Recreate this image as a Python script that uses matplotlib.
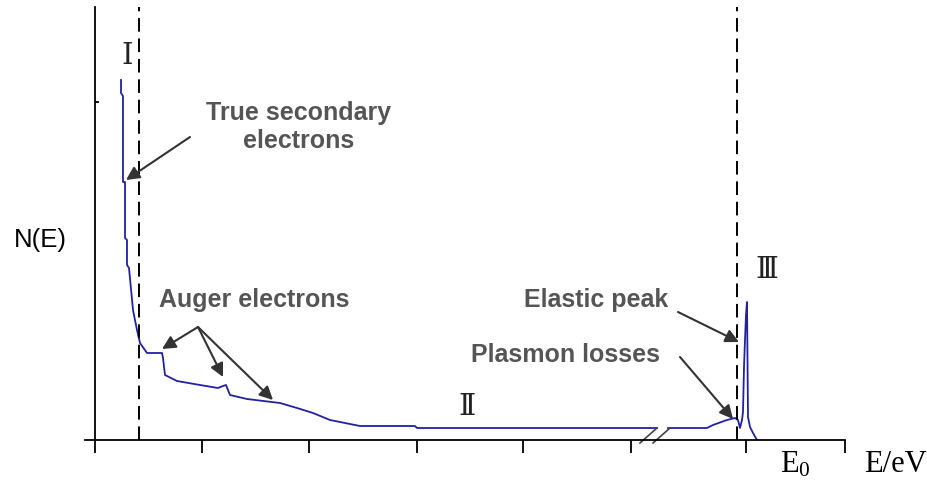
import matplotlib
matplotlib.use("Agg")
import matplotlib.pyplot as plt

plt.rcParams["mathtext.fontset"] = "custom"
plt.rcParams["mathtext.rm"] = "Liberation Serif"
plt.rcParams["mathtext.it"] = "Liberation Serif:italic"

# ── data (energy / counts in arbitrary units) ──
low_e = [26, 26, 28, 28, 30, 30, 32, 32, 34, 38, 42, 45, 52, 67, 68, 70, 82, 105,
         123, 128, 131, 133, 135, 152, 185, 202, 218, 235, 265, 320, 322, 562]
low_n = [360, 347, 344, 258, 258, 202, 200, 175, 172, 130, 110, 97, 87, 87, 82, 65,
         59, 55, 52, 54, 55, 50, 45, 41, 37, 32, 27, 20, 14, 14, 12, 12]
high_e = [573, 612, 618, 632, 640, 643, 645, 647, 648, 649, 650, 651, 652, 653,
          655, 658, 662]
high_n = [12, 12, 15, 20, 22, 20, 12, 20, 28, 73, 100, 125, 138, 23, 13, 7, 0]

x_ticks = [0, 107, 214, 322, 428, 536, 651, 750]
region_lines = [44, 642]

LINE = "#2222a0"
TXT = "#555555"
ARR = "#333333"

fig = plt.figure(figsize=(9.28, 4.84), dpi=100)
ax = fig.add_axes([85 / 928, 44 / 484, 760 / 928, 433 / 484])
ax.set_xlim(-10, 750)
ax.set_ylim(0, 433)

for s in ("top", "right"):
    ax.spines[s].set_visible(False)
ax.spines["left"].set_position(("data", 0))
ax.spines["left"].set_linewidth(1.3)
ax.spines["bottom"].set_linewidth(1.3)
ax.set_xticks(x_ticks)
ax.set_xticklabels([])
ax.tick_params(axis="x", direction="out", length=9, width=1.3)
ax.set_yticks([338])
ax.set_yticklabels([])
ax.tick_params(axis="y", direction="in", length=3, width=1.3)

ax.plot(low_e, low_n, color=LINE, lw=1.3)
ax.plot(high_e, high_n, color=LINE, lw=1.3)

for xv in region_lines:
    ax.axvline(xv, color="black", lw=1.4, ls=(0, (7, 3.5)))

# axis break marks
for x0 in (545, 558):
    ax.plot([x0, x0 + 17], [-3, 12], color="#444444", lw=1.2, clip_on=False)

roman = dict(family=["DejaVu Serif", "Noto Sans CJK SC"], fontsize=21, color="#222222",
             ha="center", va="center")
ax.text(32, 384, "Ⅰ", **roman)
ax.text(372, 33, "Ⅱ", **roman)
ax.text(672, 170, "Ⅲ", **roman)

lab = dict(fontsize=18, fontweight="bold", color=TXT, ha="center", va="center",
           family="Liberation Sans")
ax.text(204, 313, "True secondary\nelectrons", linespacing=1.25, **lab)
ax.text(159, 140, "Auger electrons", **lab)
ax.text(501, 140, "Elastic peak", **lab)
ax.text(471, 85, "Plasmon losses", **lab)

ap = dict(arrowstyle="-|>", color=ARR, lw=1.5, mutation_scale=20, shrinkA=0, shrinkB=0)
ax.annotate("", xy=(31, 260), xytext=(95, 303), arrowprops=ap)
for tip in [(67, 91), (128, 63), (178, 40)]:
    ax.annotate("", xy=tip, xytext=(103, 113), arrowprops=ap)
ax.annotate("", xy=(644, 98), xytext=(583, 128), arrowprops=ap)
ax.annotate("", xy=(638, 21), xytext=(585, 83), arrowprops=ap)

ax.text(-55, 200, "N(E)", fontsize=18.5, family="Liberation Sans", ha="center",
        va="center", clip_on=False)
ax.text(700, -25, r"E$_\mathrm{0}$", fontsize=22, family="Liberation Serif", ha="center",
        va="center", clip_on=False)
ax.text(800, -24, "E/eV", fontsize=22, family="Liberation Serif", ha="center",
        va="center", clip_on=False)

fig.savefig("out.png", dpi=100)
